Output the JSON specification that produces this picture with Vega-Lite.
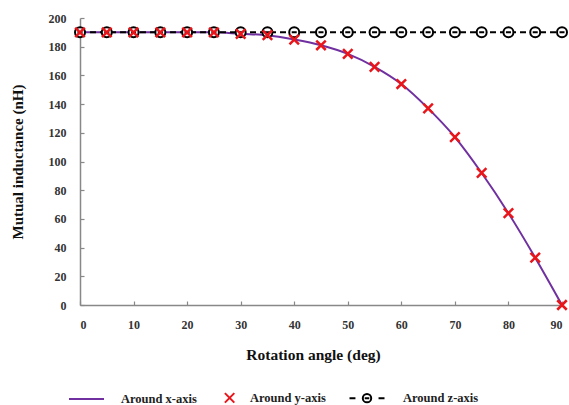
{
  "$schema": "https://vega.github.io/schema/vega-lite/v6.json",
  "width": 482,
  "height": 287,
  "autosize": {"type": "none"},
  "padding": {"left": 80, "top": 18, "right": 7, "bottom": 100},
  "background": "white",
  "config": {
    "view": {"stroke": null},
    "font": "Liberation Serif",
    "axis": {
      "grid": false,
      "domainColor": "#888888",
      "domainWidth": 1.5,
      "tickColor": "#888888",
      "tickWidth": 1.2,
      "tickSize": -4,
      "labelFont": "Liberation Serif",
      "labelFontWeight": "bold",
      "labelFontSize": 12,
      "labelColor": "#333333",
      "titleFont": "Liberation Serif",
      "titleFontSize": 15,
      "titleFontWeight": "bold",
      "titleColor": "#111111"
    }
  },
  "data": {
    "values": [
      {"series": "Around x-axis", "angle": 0, "value": 190},
      {"series": "Around x-axis", "angle": 5, "value": 190},
      {"series": "Around x-axis", "angle": 10, "value": 190},
      {"series": "Around x-axis", "angle": 15, "value": 190},
      {"series": "Around x-axis", "angle": 20, "value": 190},
      {"series": "Around x-axis", "angle": 25, "value": 190},
      {"series": "Around x-axis", "angle": 30, "value": 189},
      {"series": "Around x-axis", "angle": 35, "value": 188},
      {"series": "Around x-axis", "angle": 40, "value": 185},
      {"series": "Around x-axis", "angle": 45, "value": 181},
      {"series": "Around x-axis", "angle": 50, "value": 175},
      {"series": "Around x-axis", "angle": 55, "value": 166},
      {"series": "Around x-axis", "angle": 60, "value": 154},
      {"series": "Around x-axis", "angle": 65, "value": 137},
      {"series": "Around x-axis", "angle": 70, "value": 117},
      {"series": "Around x-axis", "angle": 75, "value": 92},
      {"series": "Around x-axis", "angle": 80, "value": 64},
      {"series": "Around x-axis", "angle": 85, "value": 33},
      {"series": "Around x-axis", "angle": 90, "value": 0},
      {"series": "Around y-axis", "angle": 0, "value": 190},
      {"series": "Around y-axis", "angle": 5, "value": 190},
      {"series": "Around y-axis", "angle": 10, "value": 190},
      {"series": "Around y-axis", "angle": 15, "value": 190},
      {"series": "Around y-axis", "angle": 20, "value": 190},
      {"series": "Around y-axis", "angle": 25, "value": 190},
      {"series": "Around y-axis", "angle": 30, "value": 189},
      {"series": "Around y-axis", "angle": 35, "value": 188},
      {"series": "Around y-axis", "angle": 40, "value": 185},
      {"series": "Around y-axis", "angle": 45, "value": 181},
      {"series": "Around y-axis", "angle": 50, "value": 175},
      {"series": "Around y-axis", "angle": 55, "value": 166},
      {"series": "Around y-axis", "angle": 60, "value": 154},
      {"series": "Around y-axis", "angle": 65, "value": 137},
      {"series": "Around y-axis", "angle": 70, "value": 117},
      {"series": "Around y-axis", "angle": 75, "value": 92},
      {"series": "Around y-axis", "angle": 80, "value": 64},
      {"series": "Around y-axis", "angle": 85, "value": 33},
      {"series": "Around y-axis", "angle": 90, "value": 0},
      {"series": "Around z-axis", "angle": 0, "value": 190},
      {"series": "Around z-axis", "angle": 5, "value": 190},
      {"series": "Around z-axis", "angle": 10, "value": 190},
      {"series": "Around z-axis", "angle": 15, "value": 190},
      {"series": "Around z-axis", "angle": 20, "value": 190},
      {"series": "Around z-axis", "angle": 25, "value": 190},
      {"series": "Around z-axis", "angle": 30, "value": 190},
      {"series": "Around z-axis", "angle": 35, "value": 190},
      {"series": "Around z-axis", "angle": 40, "value": 190},
      {"series": "Around z-axis", "angle": 45, "value": 190},
      {"series": "Around z-axis", "angle": 50, "value": 190},
      {"series": "Around z-axis", "angle": 55, "value": 190},
      {"series": "Around z-axis", "angle": 60, "value": 190},
      {"series": "Around z-axis", "angle": 65, "value": 190},
      {"series": "Around z-axis", "angle": 70, "value": 190},
      {"series": "Around z-axis", "angle": 75, "value": 190},
      {"series": "Around z-axis", "angle": 80, "value": 190},
      {"series": "Around z-axis", "angle": 85, "value": 190},
      {"series": "Around z-axis", "angle": 90, "value": 190}
    ]
  },
  "encoding": {
    "x": {
      "field": "angle",
      "type": "quantitative",
      "scale": {"domain": [0, 90], "nice": false, "zero": false},
      "axis": {"title": "Rotation angle (deg)", "values": [0, 10, 20, 30, 40, 50, 60, 70, 80, 90], "labelPadding": 18, "titlePadding": 17, "titleFontSize": 15.5, "titleX": 233}
    },
    "y": {
      "field": "value",
      "type": "quantitative",
      "scale": {"domain": [0, 200], "nice": false},
      "axis": {"title": "Mutual inductance (nH)", "values": [0, 20, 40, 60, 80, 100, 120, 140, 160, 180, 200], "labelPadding": 18, "titlePadding": 23}
    }
  },
  "layer": [
    {
      "transform": [{"filter": "datum.series === 'Around x-axis'"}],
      "mark": {"type": "line", "interpolate": "monotone", "strokeWidth": 2},
      "encoding": {
        "color": {
          "field": "series",
          "type": "nominal",
          "scale": {"domain": ["Around x-axis", "Around y-axis", "Around z-axis"], "range": ["#7030a0", "#e8161b", "#000000"]},
          "legend": {
            "title": null,
            "orient": "none",
            "direction": "horizontal",
            "legendX": -12,
            "legendY": 361,
            "labelFont": "Liberation Serif",
            "labelFontWeight": "bold",
            "labelFontSize": 12.5,
            "labelColor": "#222222",
            "labelOffset": 16,
            "columnPadding": 12,
            "symbolSize": 1225,
            "symbolStrokeWidth": 2,
            "encode": {
              "labels": {
                "update": {
                  "dx": {"signal": "datum.index === 1 ? -12 : datum.index === 2 ? 12 : 0"}
                }
              },
              "symbols": {
                "update": {
                  "shape": {"signal": "datum.value === 'Around x-axis' ? 'M-1,0L1,0' : datum.value === 'Around y-axis' ? 'M-0.15,-0.27L0.39,0.27M-0.15,0.27L0.39,-0.27' : 'M-0.40,0L-0.06,0M1.26,0L1.60,0M0.36,0A0.24,0.24 0 1,0 0.84,0A0.24,0.24 0 1,0 0.36,0M0.47,0L0.73,0'"},
                  "fill": {"value": "transparent"},
                  "strokeWidth": {"value": 2},
                  "strokeDash": {"value": []}
                }
              }
            }
          }
        }
      }
    },
    {
      "transform": [{"filter": "datum.series === 'Around z-axis'"}],
      "mark": {"type": "line", "strokeWidth": 2, "strokeDash": [6, 4], "color": "#000000"},
      "encoding": {}
    },
    {
      "transform": [{"filter": "datum.series === 'Around z-axis'"}],
      "mark": {"type": "point", "shape": "M-1,0A1,1 0 1,0 1,0A1,1 0 1,0 -1,0M-0.5,0L0.5,0", "size": 100, "filled": false, "fill": "white", "fillOpacity": 1, "stroke": "#000000", "strokeWidth": 2, "opacity": 1},
      "encoding": {}
    },
    {
      "transform": [{"filter": "datum.series === 'Around y-axis'"}],
      "mark": {"type": "point", "shape": "M-1,-1L1,1M-1,1L1,-1", "size": 90, "filled": false, "stroke": "#e8161b", "strokeWidth": 2.5, "opacity": 1},
      "encoding": {}
    }
  ]
}
